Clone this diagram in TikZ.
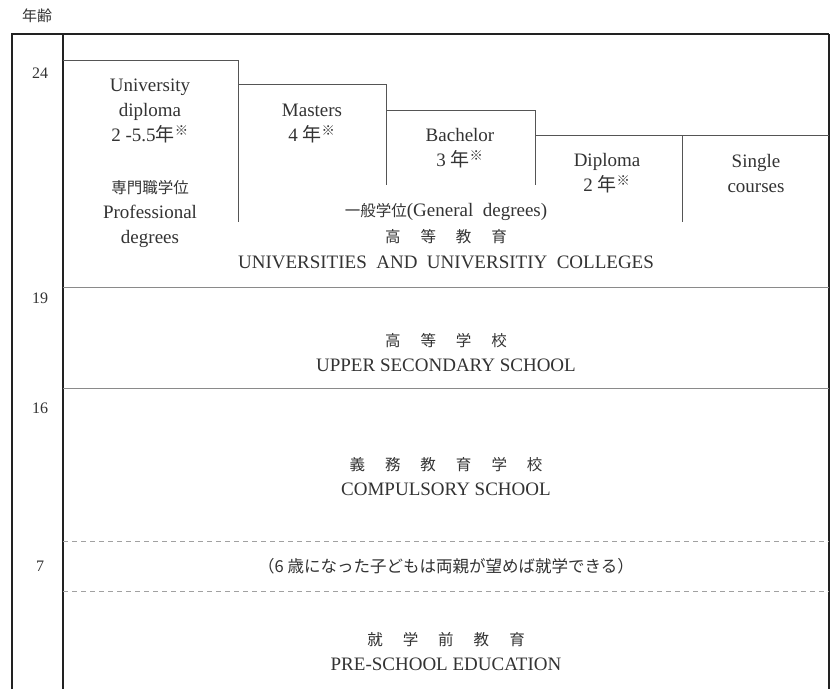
\documentclass[tikz,border=0pt]{standalone}
\usepackage{fontspec}
\setmainfont{Liberation Serif}
\newfontfamily\jp{Noto Sans CJK JP}
\newcommand\jg{\hspace{20pt}}
\newcommand\kome{\textsuperscript{\jp ※}}
\definecolor{ink}{HTML}{333333}
\definecolor{frame}{HTML}{222222}
\definecolor{stair}{HTML}{555555}
\definecolor{rule}{HTML}{8A8A8A}
\tikzset{
  lat/.style={font=\fontsize{19}{25}\selectfont, text=ink, align=center, inner sep=0pt},
  jpn/.style={font=\jp\fontsize{15.5}{22}\selectfont, text=ink, align=center, inner sep=0pt},
  age/.style={font=\fontsize{16}{20}\selectfont, text=ink, inner sep=0pt},
  framel/.style={draw=frame, line width=1.8pt},
  stairl/.style={draw=stair, line width=0.9pt},
  rulel/.style={draw=rule, line width=0.9pt},
  dashl/.style={draw=rule!80, line width=0.8pt, dash pattern=on 5pt off 4pt}
}
\begin{document}
\begin{tikzpicture}[x=1pt,y=-1pt]
\useasboundingbox[fill=white] (0,0) rectangle (832,689);
% frame corners
\coordinate (tl) at (12,34);
\coordinate (tr) at (829,34);
\coordinate (bl) at (12,689);
\coordinate (br) at (829,689);
\coordinate (it) at (63,34);
\coordinate (ib) at (63,689);
\draw[framel] (bl) -- (tl) -- (tr);
\draw[draw=frame, line width=1.2pt] (tr) -- (br);
\draw[framel] (it) -- (ib);
% staircase
\coordinate (s1a) at (63,60);  \coordinate (s1b) at (238,60);  \coordinate (s1c) at (238,222);
\coordinate (s2a) at (238,84); \coordinate (s2b) at (386,84);  \coordinate (s2c) at (386,185);
\coordinate (s3a) at (386,110);\coordinate (s3b) at (535,110); \coordinate (s3c) at (535,185);
\coordinate (s4a) at (535,135);\coordinate (s4b) at (829,135);
\coordinate (s5a) at (682,135);\coordinate (s5b) at (682,222);
\draw[stairl] (s1a) -- (s1b) -- (s1c);
\draw[stairl] (s2a) -- (s2b) -- (s2c);
\draw[stairl] (s3a) -- (s3b) -- (s3c);
\draw[stairl] (s4a) -- (s4b);
\draw[stairl] (s5a) -- (s5b);
% horizontal rules
\coordinate (h1a) at (63,287); \coordinate (h1b) at (829,287);
\coordinate (h2a) at (63,388); \coordinate (h2b) at (829,388);
\coordinate (d1a) at (63,541); \coordinate (d1b) at (829,541);
\coordinate (d2a) at (63,591); \coordinate (d2b) at (829,591);
\draw[rulel] (h1a) -- (h1b);
\draw[rulel] (h2a) -- (h2b);
\draw[dashl] (d1a) -- (d1b);
\draw[dashl] (d2a) -- (d2b);
% ages
\node[jpn, font=\jp\fontsize{15}{18}\selectfont] (nenrei) at (37,16) {年齢};
\node[age] (a24) at (40,73) {24};
\node[age] (a19) at (40,298) {19};
\node[age] (a16) at (40,408) {16};
\node[age] (a7) at (40,566) {7};
% upper block texts
\node[lat] (univ) at (150,111) {University\\diploma\\2 -5.5{\jp 年}\kome};
\node[lat] (prof) at (150,214) {{\jp\fontsize{15.5}{22}\selectfont 専門職学位}\\Professional\\degrees};
\node[lat] (mast) at (312,124) {Masters\\4 {\jp 年}\kome};
\node[lat] (bach) at (460,148) {Bachelor\\3 {\jp 年}\kome};
\node[lat] (dipl) at (607,173) {Diploma\\2 {\jp 年}\kome};
\node[lat] (sing) at (756,173) {Single\\courses};
\node[lat] (gen) at (446,212) {{\jp\fontsize{15.5}{22}\selectfont 一般学位}(General\ \ degrees)};
\node[jpn] (koto) at (446,237) {高\jg 等\jg 教\jg 育};
\node[lat] (unis) at (446,262) {UNIVERSITIES\ \ AND\ \ UNIVERSITIY\ \ COLLEGES};
% upper secondary
\node[jpn] (kogak) at (446,341) {高\jg 等\jg 学\jg 校};
\node[lat] (upper) at (446,365) {UPPER SECONDARY SCHOOL};
% compulsory
\node[jpn] (gimu) at (446,465) {義\jg 務\jg 教\jg 育\jg 学\jg 校};
\node[lat] (comp) at (446,489) {COMPULSORY SCHOOL};
% note
\node[jpn, font=\jp\fontsize{16.5}{20}\selectfont] (note) at (446,566) {（6 歳になった子どもは両親が望めば就学できる）};
% pre-school
\node[jpn] (shuga) at (446,640) {就\jg 学\jg 前\jg 教\jg 育};
\node[lat] (pre) at (446,664) {PRE-SCHOOL EDUCATION};
\end{tikzpicture}
\end{document}
